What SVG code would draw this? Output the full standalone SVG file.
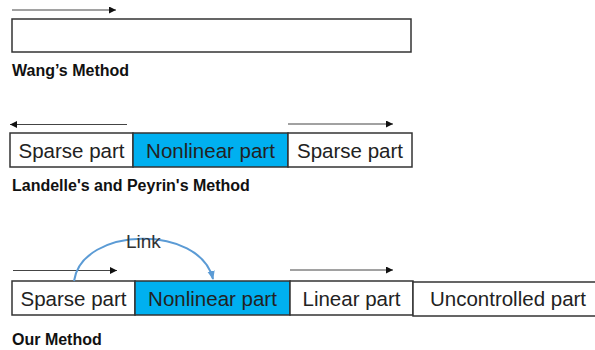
<svg xmlns="http://www.w3.org/2000/svg" width="595" height="350" viewBox="0 0 595 350">
  <defs>
    <marker id="ah" viewBox="0 0 10 10" refX="10" refY="5" markerWidth="8" markerHeight="7" markerUnits="userSpaceOnUse" orient="auto">
      <path d="M0,0 L10,5 L0,10 z" fill="#111"/>
    </marker>
    <marker id="ahb" viewBox="0 0 10 10" refX="9" refY="5" markerWidth="9" markerHeight="9" markerUnits="userSpaceOnUse" orient="auto">
      <path d="M0,1 L10,5 L0,9 z" fill="#5B9BD5"/>
    </marker>
  </defs>
  <style>
    .box { fill: #ffffff; stroke: #333333; stroke-width: 1.5; }
    .blue { fill: #00B0F0; stroke: #333333; stroke-width: 1.5; }
    .t { font-family: "Liberation Sans", Arial, sans-serif; font-size: 20.5px; fill: #222222; text-anchor: middle; }
    .cap { font-family: "Liberation Sans", Arial, sans-serif; font-size: 16px; font-weight: bold; fill: #111111; }
    .arr { stroke: #444444; stroke-width: 1; fill: none; marker-end: url(#ah); }
    .link { stroke: #5B9BD5; stroke-width: 2; fill: none; marker-end: url(#ahb); }
    .lt { font-family: "Liberation Sans", Arial, sans-serif; font-size: 19px; fill: #333333; }
  </style>

  <g id="wang">
    <rect id="wang-box" class="box" x="12" y="19" width="399" height="33"/>
    <text class="cap" x="12" y="76">Wang’s Method</text>
  </g>

  <g id="landelle">
    <g id="l-sparse1"><rect class="box" x="10" y="133" width="123" height="34"/><text class="t" x="71.5" y="158">Sparse part</text></g>
    <g id="l-nonlinear"><rect class="blue" x="133" y="133" width="155" height="34"/><text class="t" x="210.5" y="158">Nonlinear part</text></g>
    <g id="l-sparse2"><rect class="box" x="288" y="133" width="124" height="34"/><text class="t" x="350" y="158">Sparse part</text></g>
    <text class="cap" x="12" y="191">Landelle's and Peyrin's Method</text>
  </g>

  <g id="our">
    <g id="o-sparse"><rect class="box" x="12" y="281" width="123" height="34"/><text class="t" x="73.5" y="306">Sparse part</text></g>
    <g id="o-nonlinear"><rect class="blue" x="135" y="281" width="155" height="34"/><text class="t" x="212.5" y="306">Nonlinear part</text></g>
    <g id="o-linear"><rect class="box" x="290" y="281" width="123" height="34"/><text class="t" x="351.5" y="306">Linear part</text></g>
    <g id="o-uncontrolled"><rect class="box" x="413" y="282" width="190" height="34"/><text class="t" x="508" y="306">Uncontrolled part</text></g>
    <text class="cap" x="12" y="345">Our Method</text>
  </g>

  <g id="connectors">
    <line class="arr" x1="12" y1="10" x2="116" y2="10"/>
    <line class="arr" x1="127" y1="124.5" x2="10" y2="124.5"/>
    <line class="arr" x1="288" y1="124" x2="393" y2="124"/>
    <line class="arr" x1="13" y1="270.5" x2="117" y2="270.5"/>
    <line class="arr" x1="290" y1="270" x2="393" y2="270"/>
    <path class="link" d="M74,281 C82,226 200,224 213,279"/>
    <text class="lt" x="126" y="248">Link</text>
  </g>
</svg>
